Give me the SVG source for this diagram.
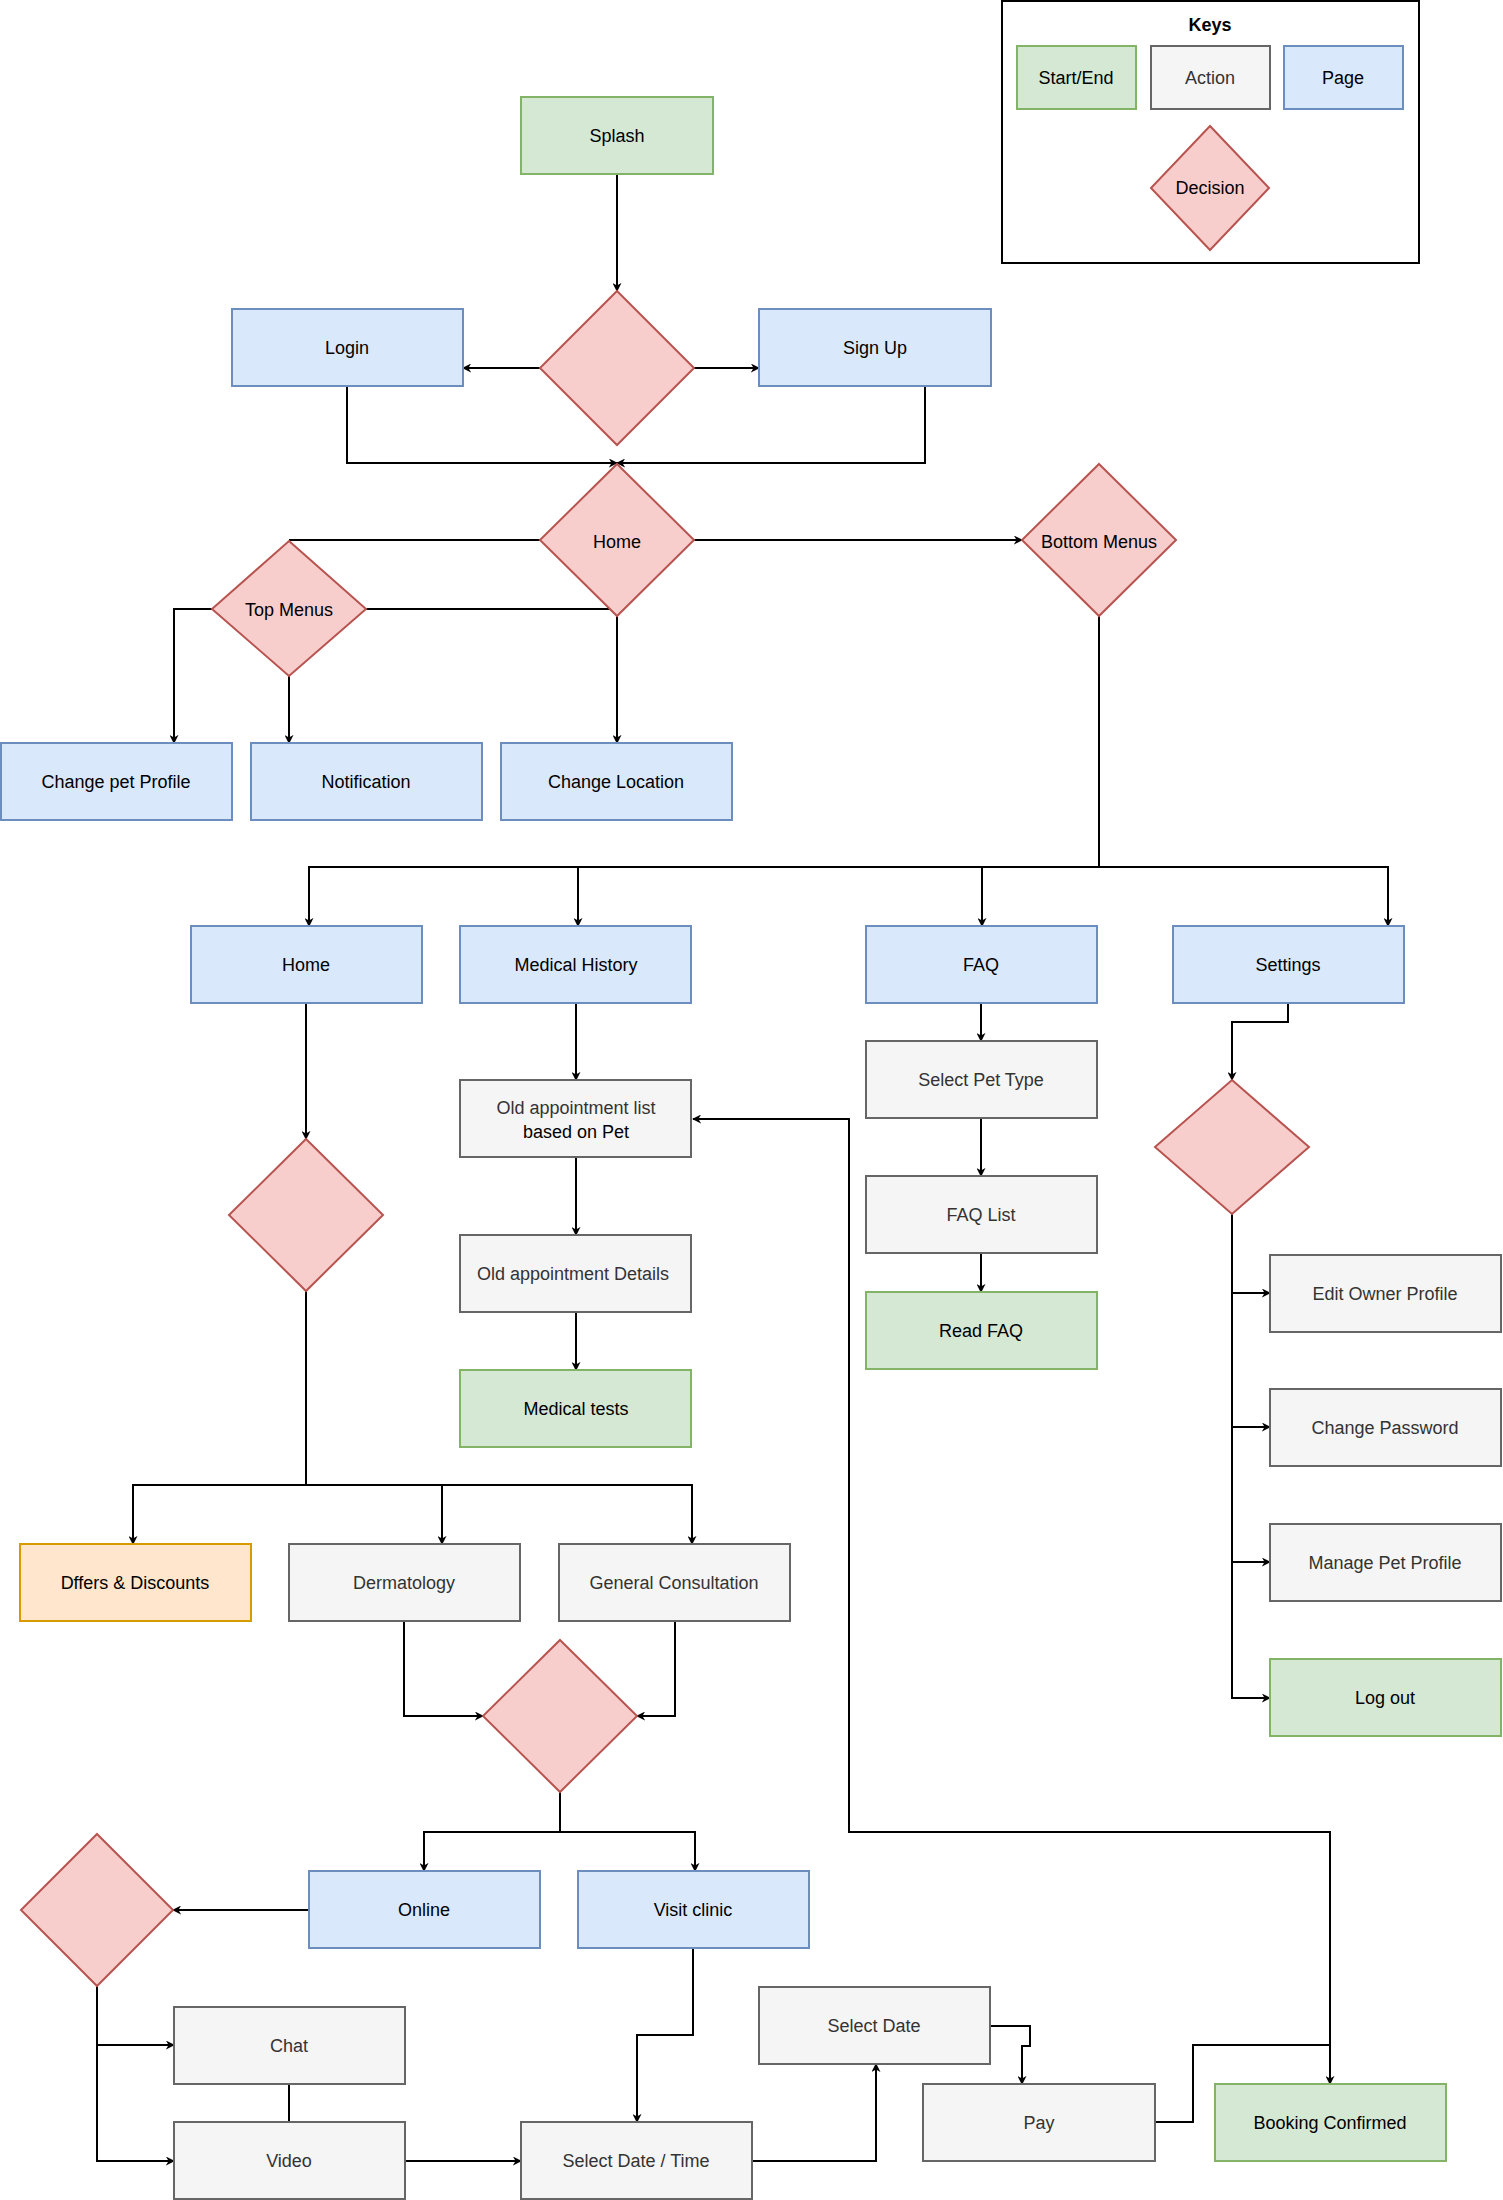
<svg xmlns="http://www.w3.org/2000/svg" width="1503" height="2200" viewBox="0 0 1503 2200">
<style>
text{font-family:"Liberation Sans",Arial,sans-serif;font-size:18px;text-anchor:middle;dominant-baseline:central;fill:#000}
.g{fill:#d5e8d4;stroke:#82b366;stroke-width:2}
.b{fill:#dae8fc;stroke:#6c8ebf;stroke-width:2}
.a{fill:#f5f5f5;stroke:#666;stroke-width:2}
.d{fill:#f8cecc;stroke:#b85450;stroke-width:2}
.o{fill:#ffe6cc;stroke:#d79b00;stroke-width:2}
.a+text{fill:#333}
#conn path{fill:none;stroke:#000;stroke-width:2}
#conn path.ar{marker-end:url(#m)}
</style>
<defs><marker id="m" viewBox="0 0 10 10" refX="9" refY="5" markerWidth="9" markerHeight="9" markerUnits="userSpaceOnUse" orient="auto"><path d="M0,0 L10,5 L0,10 L3,5 Z" fill="#000"/></marker></defs>
<rect width="1503" height="2200" fill="#fff"/>
<g id="keys">
<rect x="1002" y="1" width="417" height="262" fill="#fff" stroke="#000" stroke-width="2"/>
<text x="1210" y="25" font-weight="bold">Keys</text>
<rect class="g" x="1017" y="46" width="119" height="63"/><text x="1076" y="78">Start/End</text>
<rect class="a" x="1151" y="46" width="119" height="63"/><text x="1210" y="78">Action</text>
<rect class="b" x="1284" y="46" width="119" height="63"/><text x="1343" y="78">Page</text>
<path class="d" d="M1210,126 L1269,188 L1210,250 L1151,188 Z"/><text x="1210" y="188">Decision</text>
</g>
<g id="conn">
<path class="ar" d="M617,174 V291"/>
<path class="ar" d="M540,368 H463"/>
<path class="ar" d="M694,368 H759"/>
<path class="ar" d="M347,386 V463 H617"/>
<path class="ar" d="M925,386 V463 H617"/>
<path class="ar" d="M694,540 H1022"/>
<path d="M540,540 H289"/>
<path class="ar" d="M366,609 H617 V743"/>
<path class="ar" d="M212,609 H174 V743"/>
<path class="ar" d="M289,676 V743"/>
<path d="M1099,616 V867"/>
<path class="ar" d="M1099,867 H309 V926"/>
<path class="ar" d="M578,867 V926"/>
<path class="ar" d="M982,867 V926"/>
<path class="ar" d="M1099,867 H1388 V926"/>
<path class="ar" d="M306,1003 V1139"/>
<path d="M306,1291 V1485"/>
<path class="ar" d="M306,1485 H133 V1544"/>
<path class="ar" d="M442,1485 V1544"/>
<path class="ar" d="M306,1485 H692 V1544"/>
<path class="ar" d="M404,1621 V1716 H483"/>
<path class="ar" d="M675,1621 V1716 H637"/>
<path class="ar" d="M560,1792 V1832 H424 V1871"/>
<path class="ar" d="M560,1832 H695 V1871"/>
<path class="ar" d="M309,1910 H173"/>
<path class="ar" d="M97,1986 V2045 H174"/>
<path class="ar" d="M97,2045 V2161 H174"/>
<path d="M289,2084 V2122"/>
<path class="ar" d="M405,2161 H521"/>
<path class="ar" d="M693,1948 V2035 H637 V2122"/>
<path class="ar" d="M752,2161 H876 V2064"/>
<path class="ar" d="M990,2026 H1030 V2046 H1022 V2084"/>
<path class="ar" d="M1155,2122 H1193 V2045 H1330 V2084"/>
<path class="ar" d="M1330,2045 V1832 H849 V1119 H693"/>
<path class="ar" d="M576,1003 V1080"/>
<path class="ar" d="M576,1157 V1235"/>
<path class="ar" d="M576,1312 V1370"/>
<path class="ar" d="M981,1003 V1041"/>
<path class="ar" d="M981,1118 V1176"/>
<path class="ar" d="M981,1253 V1292"/>
<path class="ar" d="M1288,1003 V1022 H1232 V1080"/>
<path class="ar" d="M1232,1214 V1698 H1270"/>
<path class="ar" d="M1232,1293 H1270"/>
<path class="ar" d="M1232,1427 H1270"/>
<path class="ar" d="M1232,1562 H1270"/>
</g>
<g id="splash"><rect class="g" x="521" y="97" width="192" height="77"/><text x="617" y="136">Splash</text></g>
<g id="dec1"><path class="d" d="M617,291 L694,368 L617,445 L540,368 Z"/></g>
<g id="login"><rect class="b" x="232" y="309" width="231" height="77"/><text x="347" y="348">Login</text></g>
<g id="signup"><rect class="b" x="759" y="309" width="232" height="77"/><text x="875" y="348">Sign Up</text></g>
<g id="homeDec"><path class="d" d="M617,464 L694,540 L617,616 L540,540 Z"/><text x="617" y="542">Home</text></g>
<g id="bottomMenus"><path class="d" d="M1099,464 L1176,540 L1099,616 L1022,540 Z"/><text x="1099" y="542">Bottom Menus</text></g>
<g id="topMenus"><path class="d" d="M289,541 L366,609 L289,676 L212,609 Z"/><text x="289" y="610">Top Menus</text></g>
<g id="changePet"><rect class="b" x="1" y="743" width="231" height="77"/><text x="116" y="782">Change pet Profile</text></g>
<g id="notification"><rect class="b" x="251" y="743" width="231" height="77"/><text x="366" y="782">Notification</text></g>
<g id="changeLoc"><rect class="b" x="501" y="743" width="231" height="77"/><text x="616" y="782">Change Location</text></g>
<g id="home"><rect class="b" x="191" y="926" width="231" height="77"/><text x="306" y="965">Home</text></g>
<g id="medHist"><rect class="b" x="460" y="926" width="231" height="77"/><text x="576" y="965">Medical History</text></g>
<g id="faq"><rect class="b" x="866" y="926" width="231" height="77"/><text x="981" y="965">FAQ</text></g>
<g id="settings"><rect class="b" x="1173" y="926" width="231" height="77"/><text x="1288" y="965">Settings</text></g>
<g id="homeDec2"><path class="d" d="M306,1139 L383,1215 L306,1291 L229,1215 Z"/></g>
<g id="oldList"><rect class="a" x="460" y="1080" width="231" height="77"/><text x="576" y="1108">Old appointment  list</text><text x="576" y="1132">based on Pet</text></g>
<g id="oldDetails"><rect class="a" x="460" y="1235" width="231" height="77"/><text x="573" y="1274">Old appointment Details</text></g>
<g id="medTests"><rect class="g" x="460" y="1370" width="231" height="77"/><text x="576" y="1409">Medical tests</text></g>
<g id="selPet"><rect class="a" x="866" y="1041" width="231" height="77"/><text x="981" y="1080">Select Pet Type</text></g>
<g id="faqList"><rect class="a" x="866" y="1176" width="231" height="77"/><text x="981" y="1215">FAQ List</text></g>
<g id="readFaq"><rect class="g" x="866" y="1292" width="231" height="77"/><text x="981" y="1331">Read FAQ</text></g>
<g id="setDec"><path class="d" d="M1232,1080 L1309,1147 L1232,1214 L1155,1147 Z"/></g>
<g id="editOwner"><rect class="a" x="1270" y="1255" width="231" height="77"/><text x="1385" y="1294">Edit Owner Profile</text></g>
<g id="changePw"><rect class="a" x="1270" y="1389" width="231" height="77"/><text x="1385" y="1428">Change Password</text></g>
<g id="managePet"><rect class="a" x="1270" y="1524" width="231" height="77"/><text x="1385" y="1563">Manage Pet Profile</text></g>
<g id="logout"><rect class="g" x="1270" y="1659" width="231" height="77"/><text x="1385" y="1698">Log out</text></g>
<g id="offers"><rect class="o" x="20" y="1544" width="231" height="77"/><text x="135" y="1583">Dffers &amp; Discounts</text></g>
<g id="derm"><rect class="a" x="289" y="1544" width="231" height="77"/><text x="404" y="1583">Dermatology</text></g>
<g id="gc"><rect class="a" x="559" y="1544" width="231" height="77"/><text x="674" y="1583">General Consultation</text></g>
<g id="consDec"><path class="d" d="M560,1640 L637,1716 L560,1792 L483,1716 Z"/></g>
<g id="online"><rect class="b" x="309" y="1871" width="231" height="77"/><text x="424" y="1910">Online</text></g>
<g id="visit"><rect class="b" x="578" y="1871" width="231" height="77"/><text x="693" y="1910">Visit clinic</text></g>
<g id="onlineDec"><path class="d" d="M97,1834 L173,1910 L97,1986 L21,1910 Z"/></g>
<g id="chat"><rect class="a" x="174" y="2007" width="231" height="77"/><text x="289" y="2046">Chat</text></g>
<g id="video"><rect class="a" x="174" y="2122" width="231" height="77"/><text x="289" y="2161">Video</text></g>
<g id="selDT"><rect class="a" x="521" y="2122" width="231" height="77"/><text x="636" y="2161">Select Date / Time</text></g>
<g id="selDate"><rect class="a" x="759" y="1987" width="231" height="77"/><text x="874" y="2026">Select Date</text></g>
<g id="pay"><rect class="a" x="923" y="2084" width="232" height="77"/><text x="1039" y="2123">Pay</text></g>
<g id="booking"><rect class="g" x="1215" y="2084" width="231" height="77"/><text x="1330" y="2123">Booking Confirmed</text></g>
</svg>
